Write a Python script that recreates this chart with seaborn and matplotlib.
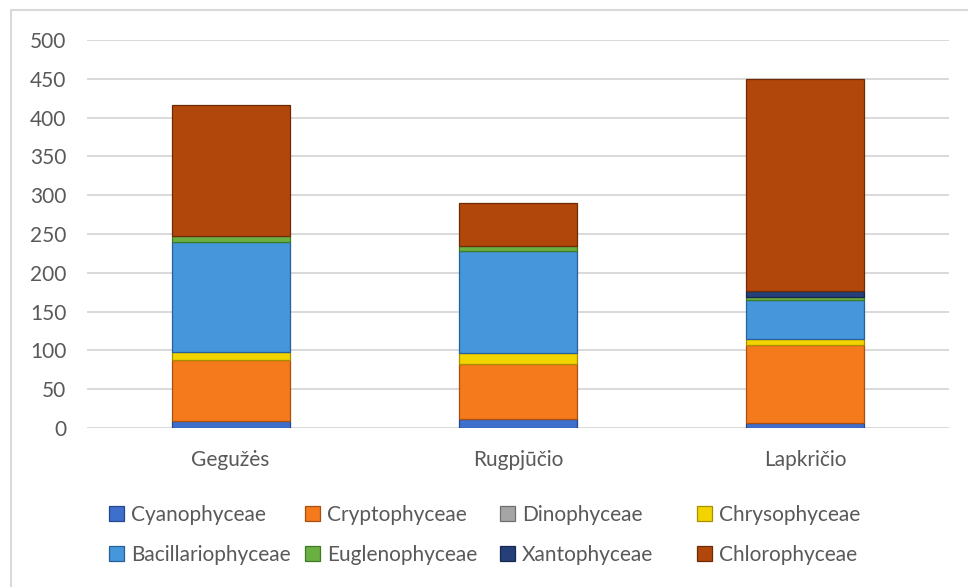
import matplotlib
matplotlib.use("Agg")
import matplotlib.pyplot as plt
from matplotlib.patches import Patch, Rectangle
import numpy as np
import pandas as pd
import seaborn as sns

# sampling months (x categories)
months = ["Gegužės", "Rugpjūčio", "Lapkričio"]

# algae classes, bottom to top of each stack
classes = [
    "Cyanophyceae", "Cryptophyceae", "Dinophyceae", "Chrysophyceae",
    "Bacillariophyceae", "Euglenophyceae", "Xantophyceae", "Chlorophyceae",
]

# values (one list per class, in month order)
cyano = [9, 11, 6]
crypto = [79, 71, 101]
dino = [0, 0, 0]
chryso = [10, 15, 8]
bacill = [142, 131, 50]
eugleno = [8, 7, 4]
xanto = [0, 0, 7]
chloro = [168, 55, 274]

series = [cyano, crypto, dino, chryso, bacill, eugleno, xanto, chloro]

fills = ["#3F6FCC", "#F57A1C", "#A5A5A5", "#F2D400",
         "#4596DA", "#6AAF42", "#253F78", "#B2470B"]
edges = ["#23468F", "#A8500F", "#6E6E6E", "#A88F00",
         "#27609A", "#3F7A24", "#15274E", "#6E2A05"]

sns.set_theme(style="white")
plt.rcParams["font.family"] = ["Lato", "DejaVu Sans"]
text_grey = "#595959"

fig = plt.figure(figsize=(9.68, 5.87), dpi=100)
ax = fig.add_axes([87 / 968, 1 - 428 / 587, (949 - 87) / 968, (428 - 40) / 587])

# stack the classes one seaborn call at a time
base = np.zeros(len(months))
for name, vals, fc, ec in zip(classes, series, fills, edges):
    vals = np.asarray(vals, dtype=float)
    frame = pd.DataFrame({"month": months, "count": vals, "base": base})
    keep = frame["count"] > 0
    if keep.any():
        sns.barplot(
            data=frame[keep], x="month", y="count", order=months,
            bottom=frame.loc[keep, "base"].to_numpy(),
            color=fc, saturation=1, width=0.41, errorbar=None,
            edgecolor=ec, linewidth=0.9, ax=ax,
        )
    base = base + vals

ax.set_xlim(-0.5, len(months) - 0.5)
ax.set_ylim(0, 500)
ax.set_yticks(range(0, 501, 50))
ax.set_xlabel("")
ax.set_ylabel("")
ax.grid(axis="y", color="#D9D9D9", linewidth=1.4)
ax.set_axisbelow(True)
sns.despine(ax=ax, left=True, bottom=True)
ax.tick_params(axis="both", length=0, labelsize=15, colors=text_grey)
ax.tick_params(axis="y", pad=15)
ax.tick_params(axis="x", pad=16)

# Excel-style legend: four evenly spaced columns, two rows each
col_x = [109, 305, 500, 697]
for c, x in enumerate(col_x):
    idx = [c, c + 4]
    handles = [Patch(facecolor=fills[i], edgecolor=edges[i], linewidth=0.9) for i in idx]
    fig.legend(
        handles, [classes[i] for i in idx],
        loc="upper left", bbox_to_anchor=(x / 968, 1 - 505 / 587),
        frameon=False, fontsize=15, labelcolor=text_grey,
        handlelength=0.7, handleheight=0.7, handletextpad=0.35,
        labelspacing=0.95, borderpad=0, borderaxespad=0,
    )

# chart area border (only top and left edges fall inside the crop)
fig.add_artist(Rectangle((11 / 968, -0.1), 1.2, 1.1 - 10 / 587,
                         transform=fig.transFigure, fill=False,
                         edgecolor="#D9D9D9", linewidth=1.5))

fig.savefig("out.png", dpi=100)
